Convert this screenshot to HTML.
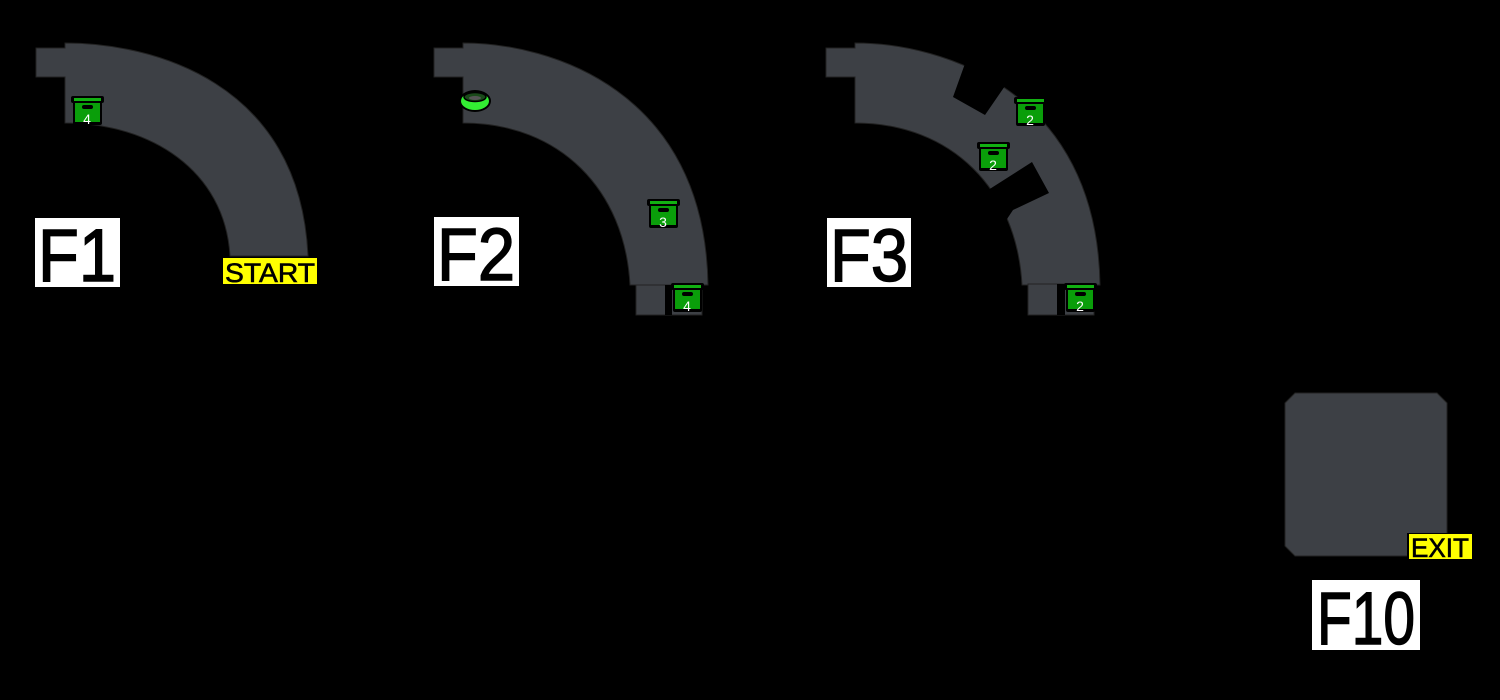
<!DOCTYPE html>
<html><head><style>
html,body{margin:0;padding:0;background:#000;width:1500px;height:700px;overflow:hidden}
svg{display:block}
text{font-family:"Liberation Sans",sans-serif}
</style></head><body>
<svg width="1500" height="700" viewBox="0 0 1500 700">
<defs>
<g id="chest">
<rect x="0" y="0" width="33" height="7" rx="2" fill="#000"/>
<rect x="3" y="2" width="27" height="3" fill="#12b012"/>
<rect x="2" y="5" width="29" height="24" rx="2" fill="#000"/>
<rect x="4" y="7" width="25" height="19" fill="#0a9e0a"/>
<rect x="11" y="9" width="11" height="4" rx="2" fill="#000"/>
</g>
</defs>
<g fill="#3d4045" stroke="#222" stroke-width="1">
<path d="M36,48 H65 V43 C150,43 300,80 308,256 H230 C225,170 150,123 65,123 V77 H36 Z"/>
<path d="M434,48 H463 V43 C550,43 705,90 708,285 H630 C625,190 560,123 463,123 V77 H434 Z"/>
<rect x="636" y="285" width="66" height="30"/>
<path d="M826,48 H855 V43 C942,43 1097,90 1100,285 H1022 C1017,190 952,123 855,123 V77 H826 Z"/>
<rect x="1028" y="284" width="66" height="31"/>
<path d="M1295,393 H1437 L1447,403 V546 L1437,556 H1295 L1285,546 V403 Z"/>
</g>
<rect x="1057" y="284" width="8" height="31" fill="#000"/>
<rect x="665" y="285" width="7" height="30" fill="#000"/>
<polygon points="965,40 967,58 953,97 985,115 1007,83 1020,50" fill="#000"/>
<polygon points="985,192 1032,162 1049,193 1013,210 1005,222" fill="#000"/>
<g fill="#000" stroke="#000" stroke-width="1.5" text-anchor="middle" font-size="74">
<rect x="35" y="218" width="85" height="69" fill="#fff" stroke="none"/>
<text x="77" y="281" textLength="78" lengthAdjust="spacingAndGlyphs">F1</text>
<rect x="434" y="217" width="85" height="69" fill="#fff" stroke="none"/>
<text x="476" y="280" textLength="78" lengthAdjust="spacingAndGlyphs">F2</text>
<rect x="827" y="218" width="84" height="69" fill="#fff" stroke="none"/>
<text x="869" y="281" textLength="78" lengthAdjust="spacingAndGlyphs">F3</text>
<rect x="1312" y="580" width="108" height="70" fill="#fff" stroke="none"/>
<text x="1366" y="644" textLength="98" lengthAdjust="spacingAndGlyphs">F10</text>
</g>
<rect x="223" y="258" width="94" height="26" fill="#ffff00"/>
<text x="270" y="282" font-size="27" text-anchor="middle" fill="#000" stroke="#000" stroke-width="0.6" textLength="90" lengthAdjust="spacingAndGlyphs">START</text>
<rect x="1407" y="533" width="65" height="27" fill="#000"/>
<rect x="1409" y="534" width="63" height="25" fill="#ffff00"/>
<text x="1440" y="557" font-size="27" text-anchor="middle" fill="#000" stroke="#000" stroke-width="0.6" textLength="58" lengthAdjust="spacingAndGlyphs">EXIT</text>
<g font-size="14" fill="#fff" text-anchor="middle">
<use href="#chest" x="71" y="96"/><text x="87" y="124" fill="#fff">4</text>
<use href="#chest" x="647" y="199"/><text x="663" y="227" fill="#fff">3</text>
<use href="#chest" x="671" y="283"/><text x="687" y="311" fill="#fff">4</text>
<use href="#chest" x="1014" y="97"/><text x="1030" y="125" fill="#fff">2</text>
<use href="#chest" x="977" y="142"/><text x="993" y="170" fill="#fff">2</text>
<use href="#chest" x="1064" y="283"/><text x="1080" y="311" fill="#fff">2</text>
</g>
<ellipse cx="475" cy="101" rx="16" ry="11" fill="#000"/>
<ellipse cx="475" cy="101" rx="14" ry="9" fill="#33ee33"/>
<ellipse cx="475" cy="97" rx="11" ry="4.5" fill="#1a4a1a" stroke="#000" stroke-width="1.5"/>
<ellipse cx="475" cy="98" rx="6" ry="2" fill="#555"/>
</svg>
</body></html>
